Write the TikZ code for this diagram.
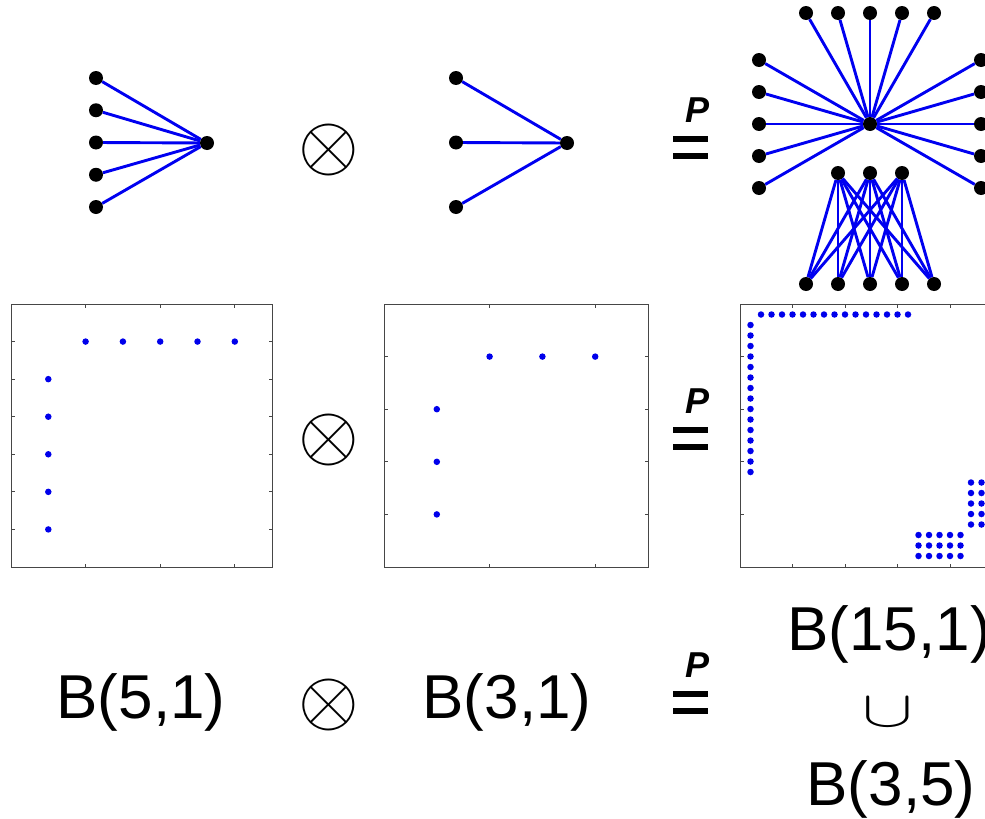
\documentclass[tikz,border=0pt]{standalone}
\usepackage{fontspec}
\setmainfont{Liberation Sans}
\setsansfont{Liberation Sans}
\usepackage{xcolor}
\usepackage{tikz}
\usetikzlibrary{positioning,calc}
\definecolor{graphblue}{RGB}{0,0,240}
\definecolor{spotblue}{RGB}{0,0,235}
\definecolor{axisgray}{RGB}{70,70,70}

\begin{document}
\begin{tikzpicture}[x=1pt, y=-1pt, font=\sffamily,
    vertex/.style={circle, fill=black, inner sep=0pt, minimum size=14pt},
    link/.style={draw=graphblue, line width=2.9pt},
    spot/.style={circle, fill=spotblue, inner sep=0pt, minimum size=6.5pt},
    axisbox/.style={draw=axisgray, line width=1pt},
    axtick/.style={draw=axisgray, line width=0.8pt},
    bname/.style={font=\fontsize{62}{62}\selectfont, inner sep=0pt, anchor=base},
    kron/.style={inner sep=0pt},
    pmark/.style={font=\fontsize{36}{36}\selectfont\bfseries\itshape, inner sep=0pt},
    pbar/.style={line width=6pt}]
  \useasboundingbox (0,0) rectangle (985,819);

  % --- top row: the graphs
  \node[vertex] (a) at (207,143) {};
  \foreach \i in {1,...,5} {
    \node[vertex] (a\i) at (96,{78+32.25*(\i-1)}) {};
    \draw[link] (a\i) -- (a);
  }
  \node[kron] (k1) at (329,150) {\scalebox{7.8}{$\otimes$}};

  \node[vertex] (b) at (567,143) {};
  \foreach \i in {1,...,3} {
    \node[vertex] (b\i) at (456,{78+64.5*(\i-1)}) {};
    \draw[link] (b\i) -- (b);
  }

  \node[pmark] (eq1) at (697,110) {P};
  \draw[pbar] ($(eq1)+(-24,29)$) -- ++(35,0);
  \draw[pbar] ($(eq1)+(-24,46)$) -- ++(35,0);

  % star B(15,1)
  \node[vertex] (c) at (870,124) {};
  \foreach \i in {1,...,5} {
    \node[vertex] (t\i) at ({806+32*(\i-1)},13) {};
    \node[vertex] (l\i) at (759,{60+32*(\i-1)}) {};
    \node[vertex] (r\i) at (981,{60+32*(\i-1)}) {};
    \draw[link] (t\i) -- (c);
    \draw[link] (l\i) -- (c);
    \draw[link] (r\i) -- (c);
  }
  % B(3,5)
  \foreach \j in {1,...,3}
    \node[vertex] (u\j) at ({838+32*(\j-1)},173) {};
  \foreach \i in {1,...,5} {
    \node[vertex] (w\i) at ({806+32*(\i-1)},284) {};
    \foreach \j in {1,...,3}
      \draw[link] (u\j) -- (w\i);
  }

  % --- middle row: the adjacency plots
  \draw[axisbox] (11,304) rectangle (272,567);
  \foreach \c in {2,4,6} {
    \draw[axtick] ({11+37.3*\c},567) -- ++(0,-3.5);
    \draw[axtick] ({11+37.3*\c},304) -- ++(0,3.5);
  }
  \foreach \r in {1,...,6} {
    \draw[axtick] (11,{304+37.57*\r}) -- ++(3.5,0);
    \draw[axtick] (272,{304+37.57*\r}) -- ++(-3.5,0);
  }
  \foreach \k in {2,...,6} {
    \node[spot] (pa-1-\k) at ({11+37.3*\k},{304+37.57}) {};
    \node[spot] (pa-\k-1) at ({11+37.3},{304+37.57*\k}) {};
  }
  \node[kron] (k2) at (329,440) {\scalebox{7.8}{$\otimes$}};

  \draw[axisbox] (384,304) rectangle (648,567);
  \foreach \c in {2,4} {
    \draw[axtick] ({384+52.8*\c},567) -- ++(0,-3.5);
    \draw[axtick] ({384+52.8*\c},304) -- ++(0,3.5);
  }
  \foreach \r in {1,...,4} {
    \draw[axtick] (384,{304+52.6*\r}) -- ++(3.5,0);
    \draw[axtick] (648,{304+52.6*\r}) -- ++(-3.5,0);
  }
  \foreach \k in {2,...,4} {
    \node[spot] (pb-1-\k) at ({384+52.8*\k},{304+52.6}) {};
    \node[spot] (pb-\k-1) at ({384+52.8},{304+52.6*\k}) {};
  }

  \node[pmark] (eq2) at (697,401) {P};
  \draw[pbar] ($(eq2)+(-24,29)$) -- ++(35,0);
  \draw[pbar] ($(eq2)+(-24,46)$) -- ++(35,0);

  \draw[axisbox] (740,304) rectangle (1002.5,567);
  \foreach \c in {5,10,15,20} {
    \draw[axtick] ({740+10.5*\c},567) -- ++(0,-3.5);
    \draw[axtick] ({740+10.5*\c},304) -- ++(0,3.5);
    \draw[axtick] (740,{304+10.5*\c}) -- ++(3.5,0);
  }
  \foreach \k in {2,...,16} {
    \node[spot] (pc-1-\k) at ({740+10.5*\k},{304+10.5}) {};
    \node[spot] (pc-\k-1) at ({740+10.5},{304+10.5*\k}) {};
  }
  \foreach \m in {17,...,21}
    \foreach \n in {22,...,24} {
      \node[spot] (pc-\n-\m) at ({740+10.5*\m},{304+10.5*\n}) {};
      \node[spot] (pc-\m-\n) at ({740+10.5*\n},{304+10.5*\m}) {};
    }

  % --- bottom row: the names
  \node[bname] (n1) at (141,718) {B(5,1)};
  \node[kron] (k3) at (329,705) {\scalebox{7.8}{$\otimes$}};
  \node[bname] (n2) at (507,718) {B(3,1)};
  \node[pmark] (eq3) at (697,665) {P};
  \draw[pbar] ($(eq3)+(-24,29)$) -- ++(35,0);
  \draw[pbar] ($(eq3)+(-24,46)$) -- ++(35,0);
  \node[bname] (n3) at (889,650) {B(15,1)};
  \node[kron] (cup) at (888,712) {\scalebox{7.6}[5.1]{$\cup$}};
  \node[bname] (n4) at (891,805) {B(3,5)};
\end{tikzpicture}
\end{document}
